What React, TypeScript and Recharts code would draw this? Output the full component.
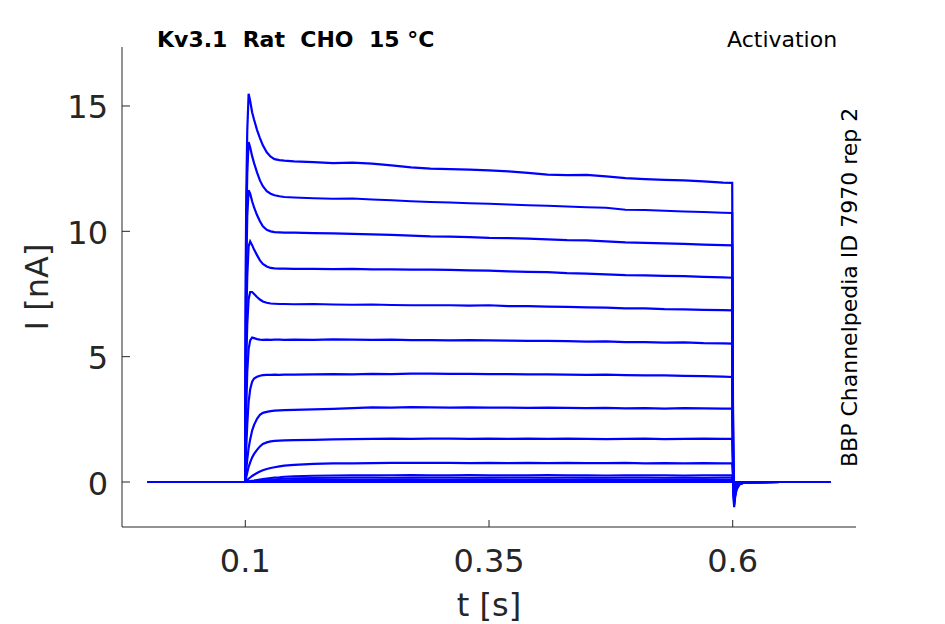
import React from 'react';
import { LineChart, Line, XAxis, YAxis } from 'recharts';

// time [s]
const T = [0, 0.0999, 0.1005, 0.101, 0.102, 0.1034, 0.105, 0.107, 0.109, 0.112, 0.115, 0.118, 0.122, 0.126, 0.13, 0.135, 0.14, 0.15, 0.17, 0.19, 0.21, 0.23, 0.25, 0.27, 0.29, 0.31, 0.33, 0.35, 0.37, 0.39, 0.41, 0.43, 0.45, 0.47, 0.49, 0.51, 0.53, 0.55, 0.57, 0.59, 0.5995, 0.6003, 0.6008, 0.6015, 0.6025, 0.604, 0.607, 0.612, 0.65, 0.7];

// current traces [nA], top to bottom
const I01 = [0, 0, 9.0, 11.5, 14.0, 15.49, 15.2, 14.75, 14.45, 14.05, 13.72, 13.43, 13.15, 12.98, 12.88, 12.84, 12.82, 12.79, 12.76, 12.72, 12.74, 12.7, 12.63, 12.55, 12.5, 12.48, 12.46, 12.43, 12.39, 12.33, 12.26, 12.24, 12.25, 12.19, 12.12, 12.08, 12.05, 12.03, 11.99, 11.94, 11.93, 3.0, -0.5, -1.0, -0.6, -0.3, -0.1, -0.02, 0, 0];
const I02 = [0, 0, 7.5, 10.0, 12.3, 13.56, 13.35, 13.0, 12.72, 12.35, 12.03, 11.8, 11.6, 11.5, 11.44, 11.4, 11.37, 11.35, 11.32, 11.3, 11.31, 11.27, 11.24, 11.2, 11.17, 11.15, 11.12, 11.1, 11.07, 11.04, 11.02, 10.99, 10.96, 10.94, 10.86, 10.85, 10.82, 10.79, 10.77, 10.74, 10.73, 2.7, -0.45, -0.9, -0.54, -0.27, -0.09, -0.02, 0, 0];
const I03 = [0, 0, 6.5, 8.5, 10.6, 11.64, 11.5, 11.2, 10.95, 10.65, 10.4, 10.2, 10.06, 10.0, 9.97, 9.96, 9.95, 9.95, 9.93, 9.92, 9.9, 9.88, 9.86, 9.83, 9.8, 9.79, 9.77, 9.74, 9.73, 9.71, 9.68, 9.65, 9.64, 9.6, 9.56, 9.54, 9.52, 9.5, 9.47, 9.45, 9.44, 2.4, -0.4, -0.8, -0.48, -0.24, -0.08, -0.02, 0, 0];
const I04 = [0, 0, 5.0, 6.5, 8.2, 9.4, 9.6, 9.45, 9.27, 9.05, 8.84, 8.7, 8.6, 8.54, 8.52, 8.51, 8.51, 8.5, 8.5, 8.49, 8.5, 8.48, 8.48, 8.47, 8.47, 8.46, 8.44, 8.43, 8.4, 8.38, 8.37, 8.33, 8.31, 8.28, 8.25, 8.24, 8.22, 8.21, 8.18, 8.16, 8.15, 2.1, -0.35, -0.7, -0.42, -0.21, -0.07, -0.02, 0, 0];
const I05 = [0, 0, 3.5, 4.8, 6.3, 7.3, 7.58, 7.58, 7.5, 7.38, 7.28, 7.2, 7.15, 7.12, 7.11, 7.1, 7.1, 7.09, 7.1, 7.08, 7.07, 7.08, 7.06, 7.05, 7.05, 7.05, 7.04, 7.05, 7.02, 7.02, 7.0, 6.99, 6.97, 6.96, 6.93, 6.93, 6.9, 6.89, 6.87, 6.86, 6.85, 1.75, -0.29, -0.58, -0.35, -0.17, -0.06, -0.01, 0, 0];
const I06 = [0, 0, 2.0, 3.0, 4.4, 5.3, 5.65, 5.76, 5.74, 5.7, 5.68, 5.67, 5.68, 5.67, 5.68, 5.68, 5.67, 5.68, 5.67, 5.69, 5.68, 5.67, 5.68, 5.66, 5.66, 5.65, 5.66, 5.65, 5.64, 5.63, 5.63, 5.62, 5.6, 5.61, 5.58, 5.58, 5.56, 5.57, 5.54, 5.53, 5.52, 1.4, -0.24, -0.47, -0.28, -0.14, -0.05, -0.01, 0, 0];
const I07 = [0, 0, 0.8, 1.4, 2.3, 3.2, 3.7, 4.0, 4.13, 4.2, 4.24, 4.26, 4.27, 4.27, 4.28, 4.27, 4.28, 4.28, 4.29, 4.3, 4.29, 4.31, 4.3, 4.32, 4.32, 4.31, 4.31, 4.3, 4.3, 4.29, 4.29, 4.28, 4.27, 4.28, 4.26, 4.25, 4.25, 4.23, 4.22, 4.2, 4.19, 1.1, -0.18, -0.36, -0.22, -0.11, -0.04, -0.01, 0, 0];
const I08 = [0, 0, 0.3, 0.5, 0.9, 1.35, 1.7, 2.05, 2.28, 2.52, 2.68, 2.76, 2.8, 2.83, 2.85, 2.86, 2.87, 2.88, 2.9, 2.92, 2.95, 2.98, 2.97, 2.99, 2.98, 2.97, 2.98, 2.97, 2.97, 2.96, 2.97, 2.96, 2.95, 2.96, 2.94, 2.95, 2.93, 2.95, 2.94, 2.93, 2.93, 0.75, -0.12, -0.25, -0.15, -0.08, -0.03, -0.01, 0, 0];
const I09 = [0, 0, 0.1, 0.2, 0.38, 0.6, 0.78, 0.98, 1.12, 1.28, 1.42, 1.52, 1.58, 1.62, 1.64, 1.65, 1.66, 1.67, 1.68, 1.7, 1.71, 1.72, 1.73, 1.72, 1.73, 1.73, 1.72, 1.73, 1.72, 1.73, 1.72, 1.73, 1.72, 1.71, 1.72, 1.73, 1.71, 1.72, 1.73, 1.72, 1.72, 0.45, -0.07, -0.14, -0.08, -0.04, -0.02, 0, 0, 0];
const I10 = [0, 0, 0.02, 0.04, 0.08, 0.13, 0.18, 0.24, 0.29, 0.36, 0.42, 0.47, 0.52, 0.56, 0.59, 0.62, 0.65, 0.68, 0.72, 0.74, 0.74, 0.75, 0.76, 0.76, 0.76, 0.76, 0.75, 0.76, 0.75, 0.76, 0.75, 0.76, 0.75, 0.75, 0.76, 0.74, 0.75, 0.74, 0.75, 0.74, 0.74, 0.2, -0.03, -0.06, -0.04, -0.02, -0.01, 0, 0, 0];
const I11 = [0, 0, 0, 0.01, 0.02, 0.03, 0.04, 0.05, 0.06, 0.08, 0.1, 0.12, 0.14, 0.16, 0.18, 0.19, 0.21, 0.23, 0.25, 0.26, 0.27, 0.27, 0.27, 0.28, 0.27, 0.27, 0.28, 0.27, 0.27, 0.27, 0.28, 0.27, 0.27, 0.26, 0.27, 0.27, 0.27, 0.26, 0.27, 0.27, 0.27, 0.08, -0.01, -0.02, -0.01, 0, 0, 0, 0, 0];
const I12 = [0, 0, 0, 0, 0.01, 0.02, 0.02, 0.03, 0.04, 0.05, 0.06, 0.07, 0.09, 0.1, 0.11, 0.12, 0.13, 0.15, 0.16, 0.17, 0.18, 0.18, 0.17, 0.18, 0.18, 0.18, 0.17, 0.18, 0.18, 0.18, 0.17, 0.18, 0.18, 0.17, 0.18, 0.18, 0.17, 0.18, 0.17, 0.18, 0.18, 0.05, 0, -0.01, 0, 0, 0, 0, 0, 0];
const I13 = [0, 0, 0, 0, 0, 0.01, 0.01, 0.02, 0.02, 0.03, 0.03, 0.04, 0.05, 0.05, 0.06, 0.07, 0.07, 0.08, 0.09, 0.1, 0.1, 0.1, 0.1, 0.11, 0.1, 0.1, 0.1, 0.11, 0.1, 0.1, 0.1, 0.1, 0.11, 0.1, 0.1, 0.1, 0.1, 0.1, 0.11, 0.1, 0.1, 0.03, 0, 0, 0, 0, 0, 0, 0, 0];
const I14 = [0, 0, 0, 0, 0, 0, 0.01, 0.01, 0.01, 0.01, 0.02, 0.02, 0.02, 0.03, 0.03, 0.03, 0.04, 0.04, 0.05, 0.05, 0.05, 0.05, 0.05, 0.05, 0.05, 0.05, 0.05, 0.05, 0.05, 0.05, 0.05, 0.05, 0.05, 0.05, 0.05, 0.05, 0.05, 0.05, 0.05, 0.05, 0.05, 0.01, 0, 0, 0, 0, 0, 0, 0, 0];
const I15 = [0, 0, 0, 0, 0, 0, 0, 0, 0, 0, 0.01, 0.01, 0.01, 0.01, 0.01, 0.01, 0.01, 0.02, 0.02, 0.02, 0.02, 0.02, 0.02, 0.02, 0.02, 0.02, 0.02, 0.02, 0.02, 0.02, 0.02, 0.02, 0.02, 0.02, 0.02, 0.02, 0.02, 0.02, 0.02, 0.02, 0.02, 0, 0, 0, 0, 0, 0, 0, 0, 0];
const I16 = [0, 0, 0, 0, 0, 0, 0, 0, 0, 0, 0, 0, 0, 0, 0, 0, 0, 0, 0, 0, 0, 0, 0, 0, 0, 0, 0, 0, 0, 0, 0, 0, 0, 0, 0, 0, 0, 0, 0, 0, 0, 0, 0, 0, 0, 0, 0, 0, 0, 0];

const SERIES = [I01, I02, I03, I04, I05, I06, I07, I08, I09, I10, I11, I12, I13, I14, I15, I16];
const KEYS = SERIES.map((_, k) => 's' + (k + 1));

const X_TICKS = [0.1, 0.35, 0.6];
const Y_TICKS = [0, 5, 10, 15];
const X_DOMAIN = [-0.0265, 0.7265];
const Y_DOMAIN = [-1.795, 17.353];

const TITLE = 'Kv3.1  Rat  CHO  15 °C';
const RIGHT_TITLE = 'Activation';
const SIDE_TEXT = 'BBP Channelpedia ID 7970 rep 2';
const X_LABEL = 't [s]';
const Y_LABEL = 'I [nA]';

const ROWS = T.map((t, i) => {
  const r: Record<string, number> = { t };
  SERIES.forEach((s, k) => {
    r[KEYS[k]] = s[i];
  });
  return r;
});

const AX = '#262626';
const FONT = '"DejaVu Sans", sans-serif';
const TRACE = '#0000ff';

function YTick(props: any) {
  const { x, y, payload } = props;
  return (
    <g>
      <line x1={x} x2={x + 8} y1={y} y2={y} stroke={AX} strokeWidth={1} />
      <text x={x - 14} y={y} dy={12.5} textAnchor="end" fontSize={32} fill={AX} fontFamily={FONT}>
        {String(payload.value)}
      </text>
    </g>
  );
}

function XTick(props: any) {
  const { x, y, payload } = props;
  return (
    <g>
      <line x1={x} x2={x} y1={y} y2={y - 7} stroke={AX} strokeWidth={1} />
      <text x={x} y={y + 45} textAnchor="middle" fontSize={32} fill={AX} fontFamily={FONT}>
        {String(payload.value)}
      </text>
    </g>
  );
}

export default function App() {
  return (
    <div style={{ position: 'absolute', left: 0, top: 0, width: 945, height: 624, background: '#fff' }}>
      <LineChart
        width={945}
        height={624}
        data={ROWS}
        margin={{ top: 47, right: 89, bottom: 47, left: 62 }}
      >
        <XAxis
          dataKey="t"
          type="number"
          domain={X_DOMAIN}
          ticks={X_TICKS}
          allowDataOverflow
          height={50}
          tickSize={0}
          tickMargin={0}
          tickLine={false}
          axisLine={{ stroke: AX, strokeWidth: 1 }}
          tick={<XTick />}
          interval={0}
        />
        <YAxis
          type="number"
          domain={Y_DOMAIN}
          ticks={Y_TICKS}
          allowDataOverflow
          width={60}
          tickSize={0}
          tickMargin={0}
          tickLine={false}
          axisLine={{ stroke: AX, strokeWidth: 1 }}
          tick={<YTick />}
          interval={0}
        />
        {KEYS.map((k) => (
          <Line
            key={k}
            dataKey={k}
            type="linear"
            stroke={TRACE}
            strokeWidth={2.2}
            dot={false}
            activeDot={false}
            isAnimationActive={false}
          />
        ))}
      </LineChart>
      <svg
        width={945}
        height={624}
        style={{ position: 'absolute', left: 0, top: 0, pointerEvents: 'none' }}
      >
        <text x={157} y={47} fontSize={22} fontWeight="bold" fill="#000" fontFamily={FONT} style={{ whiteSpace: 'pre' }}>
          {TITLE}
        </text>
        <text x={727} y={47} fontSize={22} fill="#000" fontFamily={FONT}>
          {RIGHT_TITLE}
        </text>
        <text
          x={857}
          y={467}
          fontSize={22}
          fill="#000"
          fontFamily={FONT}
          transform="rotate(-90 857 467)"
        >
          {SIDE_TEXT}
        </text>
        <text x={489} y={616} textAnchor="middle" fontSize={32} fill={AX} fontFamily={FONT}>
          {X_LABEL}
        </text>
        <text
          x={48}
          y={287}
          textAnchor="middle"
          fontSize={32}
          fill={AX}
          fontFamily={FONT}
          transform="rotate(-90 48 287)"
        >
          {Y_LABEL}
        </text>
      </svg>
    </div>
  );
}
